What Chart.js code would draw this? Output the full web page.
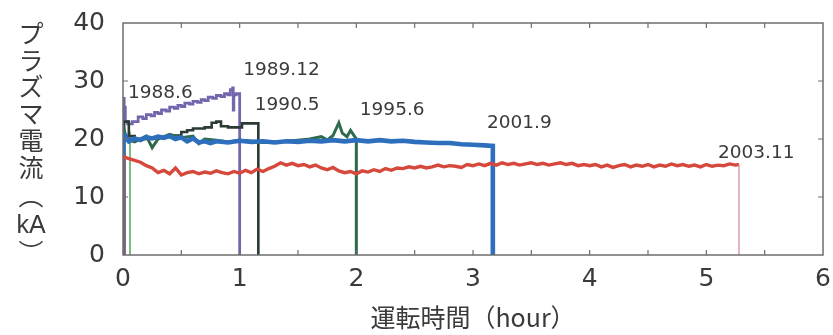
<!DOCTYPE html>
<html><head><meta charset="utf-8">
<script src="https://cdn.jsdelivr.net/npm/chart.js@4.4.0/dist/chart.umd.min.js"></script>
<style>html,body{margin:0;padding:0;background:#fff;}</style>
</head><body>
<canvas id="c" width="833" height="335"></canvas>
<script>
// ---- data (hours, kA) ----
const labels = ["1988.6", "1989.12", "1990.5", "1995.6", "2001.9", "2003.11"];

const t1988_6 = [0, 0, 0.02, 0.04, 0.06, 0.06];
const i1988_6 = [0, 22, 21, 20.5, 21, 0];

const t1989_12 = [0, 0.005, 0.01, 0.02, 0.04, 0.08, 0.13, 0.17, 0.2, 0.24, 0.27, 0.3, 0.33, 0.37, 0.4, 0.44, 0.47, 0.5, 0.53, 0.57, 0.6, 0.64, 0.67, 0.7, 0.73, 0.77, 0.8, 0.84, 0.87, 0.9, 0.92, 0.94, 0.945, 0.95, 0.97, 1.0, 1.0];
const i1989_12 = [0, 27, 25.5, 23, 22.6, 23, 23.8, 23.5, 24.2, 24.0, 24.6, 24.4, 25.0, 24.8, 25.5, 25.3, 25.8, 25.6, 26.2, 26.0, 26.5, 26.3, 26.8, 26.6, 27.2, 27.0, 27.5, 27.3, 27.8, 27.6, 28.5, 28.8, 25, 27.6, 27.8, 27.5, 0];

const t1990_5 = [0, 0.01, 0.05, 0.1, 0.2, 0.3, 0.4, 0.5, 0.55, 0.6, 0.7, 0.76, 0.8, 0.84, 0.9, 1.0, 1.02, 1.1, 1.16, 1.16];
const i1990_5 = [0, 23, 20.5, 20, 20.2, 20.4, 20.6, 21.2, 21.5, 21.8, 22, 22.8, 23, 22.2, 22, 22, 22.7, 22.7, 22.6, 0];

const t1995_6 = [0, 0.005, 0.03, 0.1, 0.2, 0.25, 0.3, 0.4, 0.5, 0.6, 0.65, 0.7, 0.8, 0.9, 1.0, 1.1, 1.2, 1.3, 1.4, 1.5, 1.6, 1.7, 1.75, 1.8, 1.85, 1.88, 1.92, 1.95, 2.0, 2.0];
const i1995_6 = [0, 22, 20, 19.5, 20.5, 18.5, 20, 20.8, 20.2, 20.5, 19.2, 20, 19.8, 19.5, 19.8, 19.6, 19.4, 19.5, 19.6, 19.8, 20, 20.4, 19.8, 20.6, 22.8, 21, 20.4, 21.5, 20, 0];

const t2001_9 = [0, 0.003, 0.02, 0.05, 0.1, 0.15, 0.2, 0.25, 0.3, 0.35, 0.4, 0.45, 0.5, 0.55, 0.6, 0.65, 0.7, 0.75, 0.8, 0.9, 1.0, 1.1, 1.2, 1.3, 1.4, 1.5, 1.6, 1.7, 1.8, 1.9, 2.0, 2.1, 2.2, 2.3, 2.4, 2.5, 2.6, 2.7, 2.8, 2.9, 3.0, 3.1, 3.17, 3.17];
const i2001_9 = [0, 19.5, 20.5, 19.6, 20.1, 19.8, 20.3, 20.1, 20.4, 20.2, 20.5, 20.0, 20.3, 19.6, 20.1, 19.4, 19.6, 19.3, 19.6, 19.4, 19.7, 19.5, 19.6, 19.4, 19.6, 19.5, 19.7, 19.6, 19.8, 19.6, 19.8, 19.6, 19.8, 19.6, 19.7, 19.5, 19.4, 19.3, 19.3, 19.1, 19.0, 18.9, 18.8, 0];

const t2003_11 = [0, 0, 0.05, 0.1, 0.15, 0.2, 0.25, 0.3, 0.35, 0.4, 0.45, 0.5, 0.55, 0.6, 0.65, 0.7, 0.75, 0.8, 0.85, 0.9, 0.95,
  1.0, 1.05, 1.1, 1.15, 1.2, 1.25, 1.3, 1.35, 1.4, 1.45, 1.5, 1.55, 1.6, 1.65, 1.7, 1.75, 1.8, 1.85, 1.9, 1.95,
  2.0, 2.05, 2.1, 2.15, 2.2, 2.25, 2.3, 2.35, 2.4, 2.45, 2.5, 2.55, 2.6, 2.65, 2.7, 2.75, 2.8, 2.85, 2.9, 2.95,
  3.0, 3.05, 3.1, 3.15, 3.2, 3.25, 3.3, 3.35, 3.4, 3.45, 3.5, 3.55, 3.6, 3.65, 3.7, 3.75, 3.8, 3.85, 3.9, 3.95,
  4.0, 4.05, 4.1, 4.15, 4.2, 4.25, 4.3, 4.35, 4.4, 4.45, 4.5, 4.55, 4.6, 4.65, 4.7, 4.75, 4.8, 4.85, 4.9, 4.95,
  5.0, 5.05, 5.1, 5.15, 5.2, 5.25, 5.28, 5.28];
const i2003_11 = [0, 17.0, 16.6, 16.3, 16.0, 15.4, 15.0, 14.2, 14.6, 14.0, 15.0, 13.8, 14.2, 14.4, 14.0, 14.3, 14.1, 14.5, 14.2, 14.0, 14.4,
  14.1, 14.6, 14.2, 14.8, 14.4, 14.9, 15.3, 15.9, 15.5, 15.8, 15.4, 15.6, 15.2, 15.5, 15.0, 14.7, 15.1, 14.5, 14.2, 14.4,
  14.0, 14.5, 14.3, 14.7, 14.4, 14.9, 14.6, 15.0, 14.9, 15.2, 15.0, 15.3, 15.0, 15.2, 15.5, 15.2, 15.4, 15.3, 15.1, 15.6,
  15.4, 15.7, 15.4, 15.8, 15.5, 15.9, 15.6, 15.8, 15.5, 15.7, 15.9, 15.6, 15.8, 15.5, 15.7, 15.9, 15.6, 15.8, 15.4, 15.6,
  15.4, 15.6, 15.2, 15.5, 15.1, 15.4, 15.6, 15.2, 15.5, 15.3, 15.6, 15.2, 15.5, 15.3, 15.7, 15.4, 15.6, 15.3, 15.5, 15.2,
  15.6, 15.3, 15.5, 15.4, 15.7, 15.5, 15.6, 0];

// x (hours) tick labels and y (kA) tick labels
const xTicks = [0, 1, 2, 3, 4, 5, 6];
const yTicks = [0, 10, 20, 30, 40];

// ---- presentation ----
function pts(t, v) { return t.map((x, k) => ({ x: x, y: v[k] })); }

const styles = [
  { color: '#5cae5f', width: 1.6, order: 6, stepped: false },
  { color: '#7466ad', width: 2.8, order: 5, stepped: true },
  { color: '#2b3a33', width: 2.6, order: 4, stepped: true },
  { color: '#2e6a4c', width: 3.0, order: 3, stepped: false },
  { color: '#2e6fbd', width: 4.6, order: 2, stepped: false },
  { color: '#d6483c', width: 3.4, order: 1, stepped: false }
];
const series = [[t1988_6, i1988_6], [t1989_12, i1989_12], [t1990_5, i1990_5], [t1995_6, i1995_6], [t2001_9, i2001_9], [t2003_11, i2003_11]];

const datasets = series.map((s, k) => {
  const st = styles[k];
  const ds = {
    label: labels[k], data: pts(s[0], s[1]), showLine: true, pointRadius: 0,
    borderColor: st.color, borderWidth: st.width, order: st.order, stepped: st.stepped,
    fill: false, tension: 0, borderJoinStyle: 'miter'
  };
  if (k === 5) {
    ds.segment = {
      borderColor: c => (c.p1.parsed.y === 0 ? '#d98fa0' : undefined),
      borderWidth: c => (c.p1.parsed.y === 0 ? 1.3 : undefined)
    };
  }
  return ds;
});

// annotation anchors in data units (left edge, vertical centre)
const notePos = [[0.043, 27.9], [1.03, 31.9], [1.13, 25.9], [2.03, 25.0], [3.12, 22.8], [5.10, 17.6]];

const framePlugin = {
  id: 'frame',
  afterDatasetsDraw(chart) {
    const { ctx, chartArea: a, scales } = chart;
    ctx.save();
    ctx.strokeStyle = '#6e6e6e';
    ctx.lineWidth = 1.5;
    ctx.strokeRect(a.left, a.top, a.right - a.left, a.bottom - a.top);
    ctx.lineWidth = 1.2;
    ctx.beginPath();
    for (let v = 0.5; v < 6; v += 0.5) {
      const x = scales.x.getPixelForValue(v);
      ctx.moveTo(x, a.bottom); ctx.lineTo(x, a.bottom - 5);
      ctx.moveTo(x, a.top); ctx.lineTo(x, a.top + 5);
    }
    for (let v = 10; v < 40; v += 10) {
      const y = scales.y.getPixelForValue(v);
      ctx.moveTo(a.left, y); ctx.lineTo(a.left + 5, y);
      ctx.moveTo(a.right, y); ctx.lineTo(a.right - 5, y);
    }
    ctx.stroke();
    // annotations
    ctx.fillStyle = '#3a3a3a';
    ctx.font = '18.5px "DejaVu Sans"';
    ctx.textAlign = 'left';
    ctx.textBaseline = 'middle';
    labels.forEach((txt, k) => {
      ctx.fillText(txt, scales.x.getPixelForValue(notePos[k][0]), scales.y.getPixelForValue(notePos[k][1]));
    });
    // vertical y-axis title
    const chars = ['プ', 'ラ', 'ズ', 'マ', '電', '流', '︵', 'kA', '︶'];
    const ys = [33, 60, 86, 113, 140, 167, 195, 226, 252];
    ctx.textAlign = 'center';
    chars.forEach((ch, k) => {
      ctx.font = ch === 'kA' ? '25px "Liberation Sans"' : '25px "Noto Sans CJK JP"';
      ctx.fillText(ch, 31, ys[k]);
    });
    ctx.restore();
  }
};

new Chart(document.getElementById('c'), {
  type: 'scatter',
  data: { datasets },
  options: {
    responsive: false, animation: false, devicePixelRatio: 1,
    layout: { padding: { left: 0, right: 10, top: 23, bottom: 0 } },
    plugins: { legend: { display: false }, tooltip: { enabled: false } },
    scales: {
      x: {
        type: 'linear', min: 0, max: 6,
        afterBuildTicks: s => { s.ticks = xTicks.map(v => ({ value: v })); },
        ticks: { font: { family: 'DejaVu Sans', size: 25 }, color: '#3a3a3a', padding: 9, maxRotation: 0 },
        grid: { display: false, drawTicks: false }, border: { display: false },
        title: { display: true, text: '運転時間（hour）', color: '#3a3a3a', font: { family: 'Noto Sans CJK JP', size: 25 }, padding: { top: 0, bottom: 3 } },
        afterFit: s => { s.height = 80; s.paddingLeft = 0; s.paddingRight = 0; }
      },
      y: {
        type: 'linear', min: 0, max: 40,
        afterBuildTicks: s => { s.ticks = yTicks.map(v => ({ value: v })); },
        ticks: { font: { family: 'DejaVu Sans', size: 25 }, color: '#3a3a3a', padding: 18 },
        grid: { display: false, drawTicks: false }, border: { display: false },
        afterFit: s => { s.width = 123; s.paddingTop = 0; s.paddingBottom = 0; }
      }
    }
  },
  plugins: [framePlugin]
});
</script>
</body></html>
